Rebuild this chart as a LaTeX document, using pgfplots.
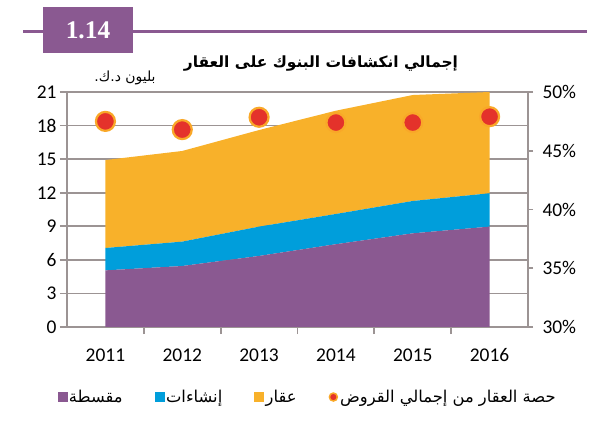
\documentclass[border=0pt]{standalone}
\usepackage{pgfplots}
\pgfplotsset{compat=1.18}
\usepackage{fontspec}
\setmainfont{Carlito}
\newfontfamily\carlito{Carlito}
\newfontfamily\arabicfont[Script=Arabic]{DejaVu Sans}
\newfontfamily\serifb{Liberation Serif}
\TeXXeTstate=1
\definecolor{purp}{RGB}{138,89,145}
\definecolor{bluec}{RGB}{0,158,219}
\definecolor{yell}{RGB}{248,177,42}
\definecolor{redc}{RGB}{228,50,43}
\definecolor{orng}{RGB}{249,168,40}
\definecolor{gridc}{RGB}{156,148,148}
\begin{document}
\begin{tikzpicture}
\useasboundingbox (0bp,0bp) rectangle (614bp,433bp);
\draw[purp, line width=3bp] (23bp,401bp) -- (587bp,401bp);
\fill[purp] (43bp,380bp) rectangle (133bp,426bp);
\node[white, font=\serifb\bfseries\fontsize{25.5}{26}\selectfont] at (88bp,403bp) {1.14};
\node[font=\arabicfont\bfseries\fontsize{15.5}{17}\selectfont] at (321bp,369bp) {\beginR إجمالي انكشافات البنوك على العقار\endR};
\node[font=\arabicfont\fontsize{14}{15}\selectfont] at (125bp,355bp) {\beginR بليون د.ك.\endR};
\begin{axis}[
 at={(67bp,106bp)}, anchor=south west,
 scale only axis, width=461bp, height=235bp,
 xmin=-0.5, xmax=5.5, ymin=0, ymax=21,
 axis line style={gridc, line width=1.8bp},
 ytick={0,3,...,21}, ytick pos=left,
 xtick={0,1,2,3,4,5}, xticklabels={2011,2012,2013,2014,2015,2016}, xtick pos=bottom,
 major x tick style={draw=none},
 minor xtick={0.5,1.5,2.5,3.5,4.5},
 tick align=outside, major tick length=7bp, minor tick length=7bp,
 tick style={gridc, line width=1.8bp},
 ymajorgrids, grid style={gridc, line width=1.8bp},
 stack plots=y,
 tick label style={font=\carlito\fontsize{19.5}{20}\selectfont},
 /pgf/number format/assume math mode=true,
 xticklabel style={yshift=-11bp},
]
\addplot[fill=purp, draw=none] coordinates {(0,5.06) (1,5.45) (2,6.35) (3,7.4) (4,8.37) (5,8.97)} \closedcycle;
\addplot[fill=bluec, draw=none] coordinates {(0,2.0) (1,2.18) (2,2.62) (3,2.7) (4,2.89) (5,2.98)} \closedcycle;
\addplot[fill=yell, draw=none] coordinates {(0,7.86) (1,8.1) (2,8.63) (3,9.23) (4,9.47) (5,9.05)} \closedcycle;
\end{axis}
\begin{axis}[
 at={(67bp,106bp)}, anchor=south west,
 scale only axis, width=461bp, height=235bp,
 xmin=-0.5, xmax=5.5, ymin=30, ymax=50,
 axis x line=none, axis y line*=right,
 axis line style={gridc, line width=1.8bp},
 ytick={30,35,40,45,50}, yticklabel={\pgfmathprintnumber{\tick}\%},
 tick align=outside, major tick length=5bp,
 tick style={gridc, line width=1.8bp},
 tick label style={font=\carlito\fontsize{19.5}{20}\selectfont},
 /pgf/number format/assume math mode=true,
 yticklabel style={xshift=6bp},
 clip=false,
 legend columns=4,
 legend style={at={(0.522,-0.298)}, anchor=center, draw=none, fill=none,
   font=\arabicfont\fontsize{16.4}{17}\selectfont,
   /tikz/every even column/.append style={column sep=30bp},
   nodes={inner sep=2bp}},
]
\addlegendimage{legend image code/.code={\fill[purp] (0bp,-4.5bp) rectangle (9bp,4.5bp);}}
\addlegendentry{\beginR مقسطة\endR}
\addlegendimage{legend image code/.code={\fill[bluec] (0bp,-4.5bp) rectangle (9bp,4.5bp);}}
\addlegendentry{\beginR إنشاءات\endR}
\addlegendimage{legend image code/.code={\fill[yell] (0bp,-4.5bp) rectangle (9bp,4.5bp);}}
\addlegendentry{\beginR عقار\endR}
\addplot[only marks, mark=*, mark size=9.5bp, mark options={draw=orng, fill=redc, line width=2.2bp},
  legend image code/.code={\draw[orng, fill=redc, line width=1.5bp] (5bp,0bp) circle (4bp);}]
  coordinates {(0,47.5) (1,46.8) (2,47.85) (3,47.4) (4,47.4) (5,47.9)};
\addlegendentry{\beginR حصة العقار من إجمالي القروض\endR}
\end{axis}
\end{tikzpicture}
\end{document}
